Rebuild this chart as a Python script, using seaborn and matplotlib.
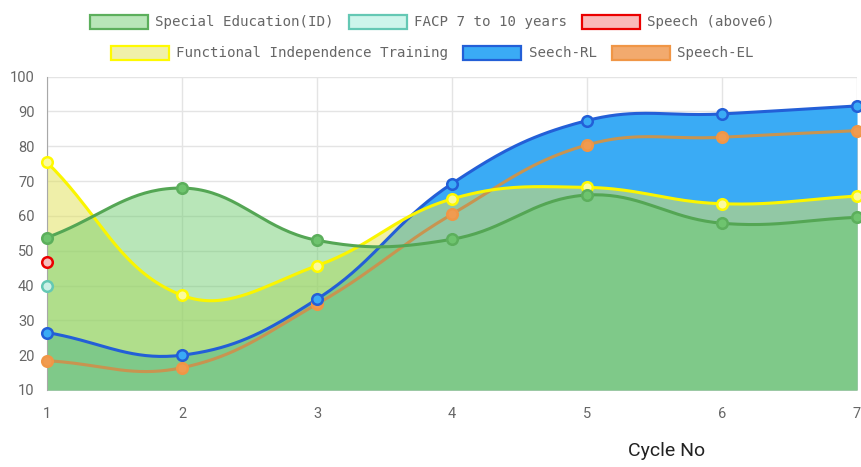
import numpy as np
import matplotlib
matplotlib.use("Agg")
import matplotlib.pyplot as plt
import seaborn as sns
from matplotlib.patches import Patch

# values
cycles = [1, 2, 3, 4, 5, 6, 7]
special_education = [53.8, 68.0, 53.0, 53.3, 66.0, 57.9, 59.6]
facp_7_10 = [39.9]
speech_above6 = [46.7]
functional_training = [75.4, 37.2, 45.7, 64.9, 68.2, 63.5, 65.7]
seech_rl = [26.5, 20.0, 36.1, 69.3, 87.4, 89.3, 91.6]
speech_el = [18.4, 16.4, 34.7, 60.5, 80.4, 82.6, 84.5]
y_ticks = [10, 20, 30, 40, 50, 60, 70, 80, 90, 100]
x_label = "Cycle No"


def rgb(r, g, b, a=1.0):
    return (r / 255, g / 255, b / 255, a)


# label, values, fill, legend box, border, line, marker face
series = [
    ("Special Education(ID)", special_education, rgb(108, 204, 108, 0.48),
     rgb(184, 230, 184), rgb(92, 175, 92), rgb(84, 166, 84), rgb(110, 196, 110)),
    ("FACP 7 to 10 years", facp_7_10, rgb(205, 245, 235, 0.5),
     rgb(205, 245, 235), rgb(100, 200, 180), rgb(100, 200, 180), rgb(205, 240, 230)),
    ("Speech (above6)", speech_above6, rgb(250, 185, 185, 0.5),
     rgb(250, 185, 185), rgb(235, 0, 0), rgb(235, 0, 0), rgb(245, 190, 190)),
    ("Functional Independence Training", functional_training, rgb(226, 226, 94, 0.53),
     rgb(240, 240, 170), rgb(255, 250, 0), rgb(250, 245, 0), rgb(250, 250, 160)),
    ("Seech-RL", seech_rl, rgb(58, 171, 245),
     rgb(58, 171, 245), rgb(35, 95, 215), rgb(35, 95, 215), rgb(58, 171, 245)),
    ("Speech-EL", speech_el, rgb(240, 168, 105, 0.9),
     rgb(242, 170, 110), rgb(240, 150, 70), rgb(200, 148, 80), rgb(240, 155, 80)),
]


def smooth(xs, ys, tension=0.4, sx=135.0, sy=3.48, steps=40):
    # bezier spline like chart.js (control points worked out in pixel space)
    px = np.array(xs, dtype=float) * sx
    py = np.array(ys, dtype=float) * sy
    n = len(px)
    if n < 2:
        return np.array(xs, dtype=float), np.array(ys, dtype=float)
    cps = []
    for i in range(n):
        a = i - 1 if i > 0 else i
        c = i + 1 if i < n - 1 else i
        d01 = np.hypot(px[i] - px[a], py[i] - py[a])
        d12 = np.hypot(px[c] - px[i], py[c] - py[i])
        tot = d01 + d12
        fa = tension * (d01 / tot if tot else 0)
        fb = tension * (d12 / tot if tot else 0)
        dx, dy = px[c] - px[a], py[c] - py[a]
        cps.append(((px[i] - fa * dx, py[i] - fa * dy), (px[i] + fb * dx, py[i] + fb * dy)))
    t = np.linspace(0, 1, steps)[1:][:, None]
    ox, oy = [px[0]], [py[0]]
    for i in range(n - 1):
        p0 = np.array([px[i], py[i]])
        p1 = np.array(cps[i][1])
        p2 = np.array(cps[i + 1][0])
        p3 = np.array([px[i + 1], py[i + 1]])
        pts = (1 - t) ** 3 * p0 + 3 * (1 - t) ** 2 * t * p1 + 3 * (1 - t) * t ** 2 * p2 + t ** 3 * p3
        ox.extend(pts[:, 0])
        oy.extend(pts[:, 1])
    return np.array(ox) / sx, np.array(oy) / sy


sns.set_style("white")
plt.rcParams['font.family'] = ['Roboto', 'DejaVu Sans']

fig = plt.figure(figsize=(8.61, 4.67), dpi=100)
ax = fig.add_axes([0.0546, 0.1649, 0.9408, 0.6709])

# chart.js paints the last dataset first, all fills before the lines
for k, (label, vals, fill, box, edge, line, face) in enumerate(reversed(series)):
    xs, ys = smooth(cycles[:len(vals)], vals)
    if len(vals) > 1:
        ax.fill_between(xs, 10, ys, color=fill, linewidth=0, zorder=1 + k * 0.01)

for k, (label, vals, fill, box, edge, line, face) in enumerate(reversed(series)):
    xs, ys = smooth(cycles[:len(vals)], vals)
    if len(vals) > 1:
        sns.lineplot(x=xs, y=ys, sort=False, estimator=None, color=line,
                     linewidth=2.2, ax=ax, zorder=3 + k * 0.01, clip_on=False)
    sns.scatterplot(x=cycles[:len(vals)], y=vals, s=58, color=face, edgecolor=edge,
                    linewidth=1.8, ax=ax, zorder=4 + k * 0.01, legend=False, clip_on=False)

ax.set_xlim(1, 7)
ax.set_ylim(10, 100)
ax.set_xticks(cycles)
ax.set_yticks(y_ticks)
ax.set_axisbelow(True)
ax.grid(True, color='#e4e4e4', linewidth=1)
for s in ['top', 'right', 'bottom']:
    ax.spines[s].set_visible(False)
ax.spines['left'].set_color('#a8a8a8')
ax.tick_params(axis='both', length=6, color='#e4e4e4', labelsize=10.5, labelcolor='#666666')
ax.tick_params(axis='y', pad=3)
ax.tick_params(axis='x', pad=6)

ax.set_xlabel(x_label, fontsize=14, color='#222222')
ax.xaxis.set_label_coords(0.765, -0.195)
ax.xaxis.label.set_va('center')
ax.set_ylabel('')

mono = {'family': 'DejaVu Sans Mono', 'size': 10.2}
rows = [series[:3], series[3:]]
row_y = [0.953, 0.8865]
for row, yy in zip(rows, row_y):
    handles = [Patch(facecolor=b[3], edgecolor=b[4], linewidth=1.6) for b in row]
    labels = [b[0] for b in row]
    leg = fig.legend(handles, labels, loc='center', bbox_to_anchor=(0.502, yy), ncol=3,
                     frameon=False, prop=mono, handlelength=4.1, handleheight=1.15,
                     handletextpad=0.5, columnspacing=1.06, borderpad=0)
    for txt in leg.get_texts():
        txt.set_color('#666666')

fig.savefig("out.png", dpi=100)
